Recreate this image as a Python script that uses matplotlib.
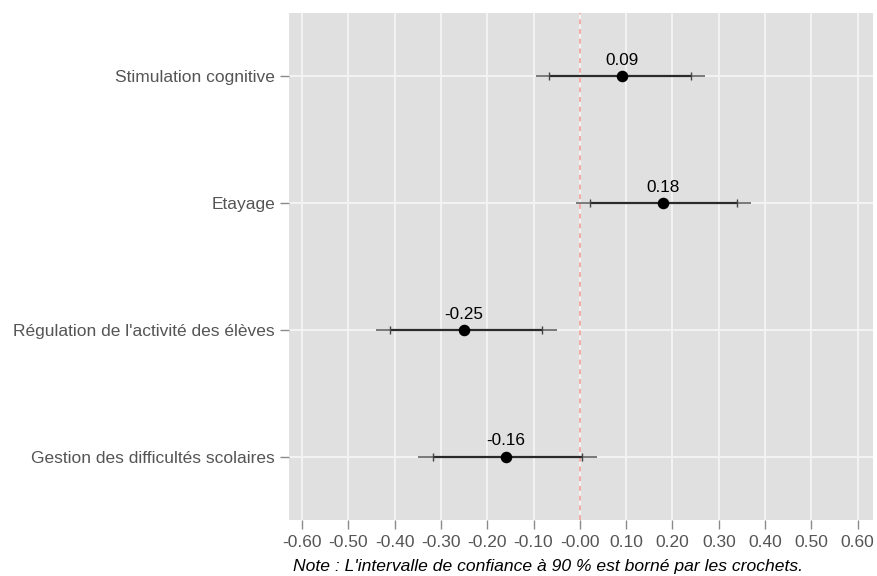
import matplotlib
matplotlib.use("Agg")
import matplotlib.pyplot as plt
import numpy as np

## data ##
categories = ["Gestion des difficultés scolaires",
              "Régulation de l'activité des élèves",
              "Etayage",
              "Stimulation cognitive"]
estimates = [-0.16, -0.25, 0.18, 0.09]
# outer line (wider interval)
outer_low = [-0.349, -0.44, -0.009, -0.094]
outer_high = [0.036, -0.049, 0.37, 0.27]
# 90 % interval (crochets)
ci90_low = [-0.317, -0.41, 0.021, -0.066]
ci90_high = [0.004, -0.081, 0.34, 0.24]
xticks = np.round(np.arange(-0.6, 0.61, 0.1), 2)
note = "Note : L'intervalle de confiance à 90 % est borné par les crochets."

plt.rcParams['font.family'] = ['Liberation Sans', 'DejaVu Sans']

fig = plt.figure(figsize=(8.78, 5.76), dpi=100)
ax = fig.add_axes([289 / 878.0, 1 - 520 / 576.0, 584 / 878.0, 507 / 576.0])
ax.set_facecolor("#E0E0E0")
for s in ax.spines.values():
    s.set_visible(False)

ypos = np.arange(1, len(categories) + 1)

## grid ##
for xv in xticks:
    ax.axvline(xv, color="#F3F3F3", lw=1.4, zorder=1)
for yv in ypos:
    ax.axhline(yv, color="#F3F3F3", lw=1.4, zorder=1)

## zero line ##
ax.axvline(0, color="#F4ACA6", lw=1.4, ls=(0, (2.5, 2.5)), zorder=2)

## intervals ##
for i, y in enumerate(ypos):
    ax.plot([outer_low[i], outer_high[i]], [y, y], color="#707070", lw=1.3, zorder=3,
            solid_capstyle="butt")
    ax.plot([ci90_low[i], ci90_high[i]], [y, y], color="#2A2A2A", lw=1.6, zorder=4,
            solid_capstyle="butt")
    ax.plot([ci90_low[i], ci90_high[i]], [y, y], ls="none", marker="|", ms=6,
            mew=1.0, color="#444444", zorder=4)
    ax.plot(estimates[i], y, "o", color="black", ms=7.3, zorder=5)
    ax.text(estimates[i], y + 0.065, "{0:.2f}".format(estimates[i]), ha="center",
            va="bottom", fontsize=12.3, color="black", zorder=6)

ax.set_xlim(-0.628, 0.633)
ax.set_ylim(0.5, 4.5)
ax.set_xticks(xticks)
ax.set_xticklabels(["{0:.2f}".format(v) for v in xticks])
ax.set_yticks(ypos)
ax.set_yticklabels(categories)
ax.tick_params(axis="both", colors="#8A8A8A", labelcolor="#555555", labelsize=12.5,
               length=6.5, width=1)
ax.tick_params(axis="x", pad=4)
ax.tick_params(axis="y", pad=3.5)

fig.text(548.5 / 878.0, 1 - 567 / 576.0, note, ha="center", va="center",
         fontsize=12.6, style="italic", color="black")

plt.savefig("out.png", dpi=100)
